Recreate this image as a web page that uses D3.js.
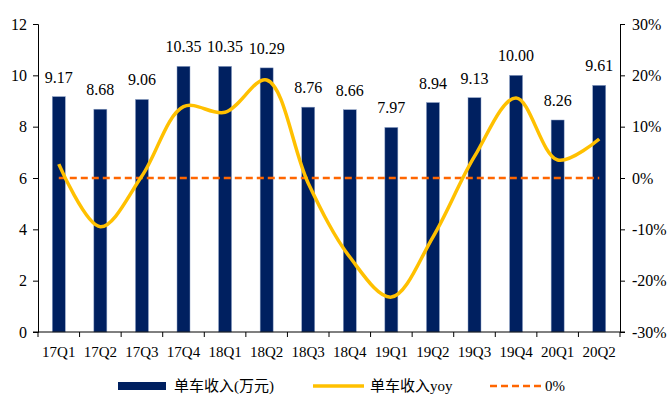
<!DOCTYPE html>
<html>
<head>
<meta charset="utf-8">
<script src="https://cdn.jsdelivr.net/npm/d3@7"></script>
<style>
  body { margin: 0; background: #fff; }
  text { font-family: 'Liberation Serif', 'Times New Roman', serif; fill: #000; }
  .cn { font-family: 'Liberation Serif', 'Noto Sans CJK SC', serif; }
</style>
</head>
<body>
<div id="chart"></div>
<script>
// data
const quarters = ['17Q1', '17Q2', '17Q3', '17Q4', '18Q1', '18Q2', '18Q3', '18Q4', '19Q1', '19Q2', '19Q3', '19Q4', '20Q1', '20Q2']
const revenue = [9.17, 8.68, 9.06, 10.35, 10.35, 10.29, 8.76, 8.66, 7.97, 8.94, 9.13, 10.0, 8.26, 9.61]
const yoy = [2.7, -9.5, 0.4, 13.9, 12.8, 19.1, -1.0, -15.4, -23.2, -11.5, 4.2, 15.6, 3.5, 7.6]
const leftTicks = [0, 2, 4, 6, 8, 10, 12]
const rightTicks = [-30, -20, -10, 0, 10, 20, 30]

const W = 671, H = 396
const margin = { top: 24, right: 51, bottom: 64, left: 38 }
const width = W - margin.left - margin.right,
  height = H - margin.top - margin.bottom

const svg = d3.select('#chart').append('svg').attr('width', W).attr('height', H)
const g = svg.append('g').attr('transform', `translate(${margin.left}, ${margin.top})`)

const x = d3.scaleBand().domain(quarters).range([0, width]).paddingInner(0.69).paddingOuter(0.345)
const xc = d3.scalePoint().domain(quarters).range([0, width]).padding(0.5)
const yL = d3.scaleLinear().domain([0, 12]).range([height, 0])
const yR = d3.scaleLinear().domain([-30, 30]).range([height, 0])

// bars
g.selectAll('.bar')
  .data(revenue)
  .enter()
  .append('rect')
  .attr('x', (d, i) => xc(quarters[i]) - 6.5)
  .attr('width', 13)
  .attr('y', (d) => yL(d))
  .attr('height', (d) => height - yL(d))
  .attr('fill', '#002060')
  .attr('stroke', '#8fa3c8')
  .attr('stroke-width', 0.5)

// bar labels
g.selectAll('.lbl')
  .data(revenue)
  .enter()
  .append('text')
  .attr('x', (d, i) => xc(quarters[i]))
  .attr('y', (d) => yL(d) - 14)
  .attr('text-anchor', 'middle')
  .attr('font-size', '16px')
  .text((d) => d.toFixed(2))

// 0% dashed line
g.append('line')
  .attr('x1', xc(quarters[0]))
  .attr('x2', xc(quarters[quarters.length - 1]))
  .attr('y1', yR(0))
  .attr('y2', yR(0))
  .attr('stroke', '#ff6600')
  .attr('stroke-width', 2.5)
  .attr('stroke-dasharray', '7,4')

// yoy smooth line
const line = d3
  .line()
  .x((d, i) => xc(quarters[i]))
  .y((d) => yR(d))
  .curve(d3.curveCatmullRom.alpha(0.5))
g.append('path')
  .attr('d', line(yoy))
  .attr('fill', 'none')
  .attr('stroke', '#ffc000')
  .attr('stroke-width', 3.5)

// axes
const axL = g.append('g').call(d3.axisLeft(yL).tickValues(leftTicks).tickSize(5).tickPadding(6))
axL.selectAll('text').attr('font-size', '16px')
const axR = g
  .append('g')
  .attr('transform', `translate(${width}, 0)`)
  .call(d3.axisRight(yR).tickValues(rightTicks).tickSize(5).tickPadding(7).tickFormat((d) => d + '%'))
axR.selectAll('text').attr('font-size', '16px')
const axB = g
  .append('g')
  .attr('transform', `translate(0, ${height})`)
  .call(d3.axisBottom(x).tickSize(0).tickPadding(14))
axB.selectAll('text').attr('font-size', '15px')
// tick marks between categories
const bounds = d3.range(quarters.length + 1).map((i) => (i * width) / quarters.length)
axB.selectAll('.sep')
  .data(bounds)
  .enter()
  .append('line')
  .attr('x1', (d) => d)
  .attr('x2', (d) => d)
  .attr('y1', 0)
  .attr('y2', 5)
  .attr('stroke', '#000')
g.selectAll('.domain').attr('stroke', '#000')
g.selectAll('.tick line').attr('stroke', '#000')
axB.select('.domain').attr('d', `M-5,0H${width + 5}`)

// legend
const lg = svg.append('g').attr('transform', 'translate(0, 386)')
lg.append('rect').attr('x', 118).attr('y', -4).attr('width', 48).attr('height', 8).attr('fill', '#002060')
lg.append('text').attr('class', 'cn').attr('x', 174).attr('y', 5).attr('font-size', '15px').text('单车收入(万元)')
lg.append('line').attr('x1', 313).attr('x2', 364).attr('y1', 0).attr('y2', 0).attr('stroke', '#ffc000').attr('stroke-width', 3.5)
lg.append('text').attr('class', 'cn').attr('x', 370).attr('y', 5).attr('font-size', '15px').text('单车收入yoy')
lg.append('line').attr('x1', 490).attr('x2', 542).attr('y1', 0).attr('y2', 0).attr('stroke', '#ff6600').attr('stroke-width', 2.5).attr('stroke-dasharray', '7,4')
lg.append('text').attr('x', 545).attr('y', 5).attr('font-size', '15px').text('0%')
</script>
</body>
</html>
